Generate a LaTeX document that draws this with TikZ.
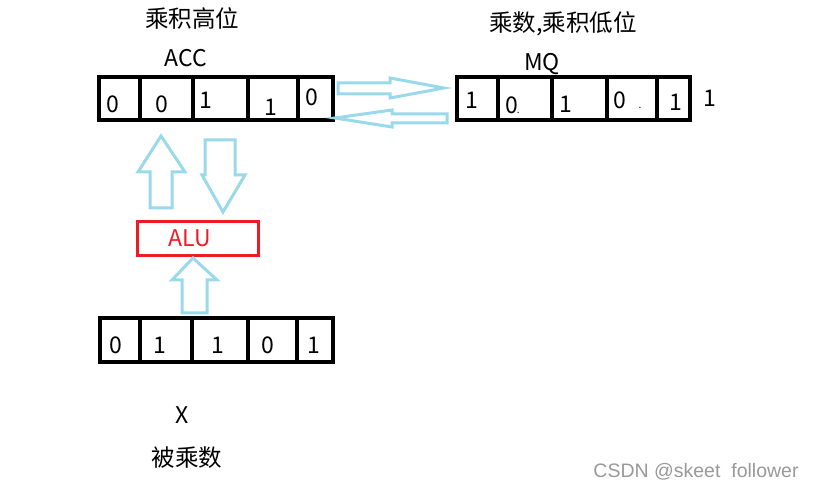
\documentclass[tikz,border=0pt]{standalone}
\usepackage{fontspec}
\setmainfont{Noto Sans CJK SC}
\newfontfamily\wmfont{Liberation Sans}
\definecolor{paintblue}{RGB}{153,217,234}
\definecolor{paintred}{RGB}{237,28,36}
\tikzset{
  reg/.style={line width=4pt},
  bigarrow/.style={paintblue, line width=3pt, line join=miter},
  digit/.style={inner sep=0pt, font=\fontsize{23}{27}\selectfont},
  title/.style={inner sep=0pt, font=\fontsize{23.5}{28}\selectfont},
}

\begin{document}
\begin{tikzpicture}[x=1pt, y=-1pt]
  \useasboundingbox (0,0) rectangle (815,489);

  % 累加器 ACC
  \draw[reg] (99,77) rectangle (333,120);
  \foreach \x in {140,193,248,298} \draw[reg] (\x,77) -- (\x,120);
  \node[digit] (a1) at (113,104) {0};
  \node[digit] (a2) at (162,104) {0};
  \node[digit] (a3) at (206,100) {1};
  \node[digit] (a4) at (271,107) {1};
  \node[digit] (a5) at (312,97)  {0};
  \node[title] (acchi) at (192,19) {乘积高位};
  \node[digit] (acc) at (186,58) {ACC};

  % 乘商寄存器 MQ
  \draw[reg] (457,77) rectangle (690,120);
  \foreach \x in {498,552,607,657} \draw[reg] (\x,77) -- (\x,120);
  \node[digit] (m1) at (472,100) {1};
  \node[digit, anchor=west] (m2) at (505,105) {0\kern-1pt{\normalsize.}};
  \node[digit] (m3) at (566,104) {1};
  \node[digit] (m4) at (620,100) {0};
  \node[digit] (m5) at (676,102) {1};
  \node[digit] (m6) at (710,98)  {1};
  \node[inner sep=0pt, font=\normalsize] (d2) at (640,108) {.};
  \node[title] (mqlo) at (563,24) {乘数,乘积低位};
  \node[digit] (mq) at (542,64) {MQ};

  % ACC <-> MQ
  \draw[bigarrow] (338,83) -- (390,83) -- (390,78) -- (444,88) -- (390,98)
    -- (390,94) -- (338,94) -- cycle;
  \draw[bigarrow] (447,114) -- (392,114) -- (392,110) -- (335,118)
    -- (392,127) -- (392,123) -- (447,123) -- cycle;

  % ALU
  \draw[paintred, line width=3pt] (137,222) rectangle (258,256);
  \node[digit, paintred] (alu) at (190,238) {ALU};
  \draw[bigarrow] (150,208) -- (150,172) -- (138,172) -- (161,136) -- (185,172)
    -- (172,172) -- (172,208) -- cycle;
  \draw[bigarrow] (205,140) -- (235,140) -- (235,175) -- (245,175) -- (223,212)
    -- (202,175) -- (205,175) -- cycle;
  \draw[bigarrow] (182,313) -- (182,280) -- (172,280) -- (193,258) -- (217,280)
    -- (207,280) -- (207,313) -- cycle;

  % 被乘数 X
  \draw[reg] (100,318) rectangle (333,362);
  \foreach \x in {140,192,248,297} \draw[reg] (\x,318) -- (\x,362);
  \node[digit] (x1) at (116,345) {0};
  \node[digit] (x2) at (160,345) {1};
  \node[digit] (x3) at (218,345) {1};
  \node[digit] (x4) at (268,345) {0};
  \node[digit] (x5) at (314,345) {1};
  \node[digit] (xx) at (182,415) {X};
  \node[title] (xlbl) at (187,458) {被乘数};

  \node[inner sep=0pt, gray!80, font=\wmfont\fontsize{19.5}{23}\selectfont]
    (wm) at (696,472) {CSDN @skeet\ \ follower};
\end{tikzpicture}
\end{document}
